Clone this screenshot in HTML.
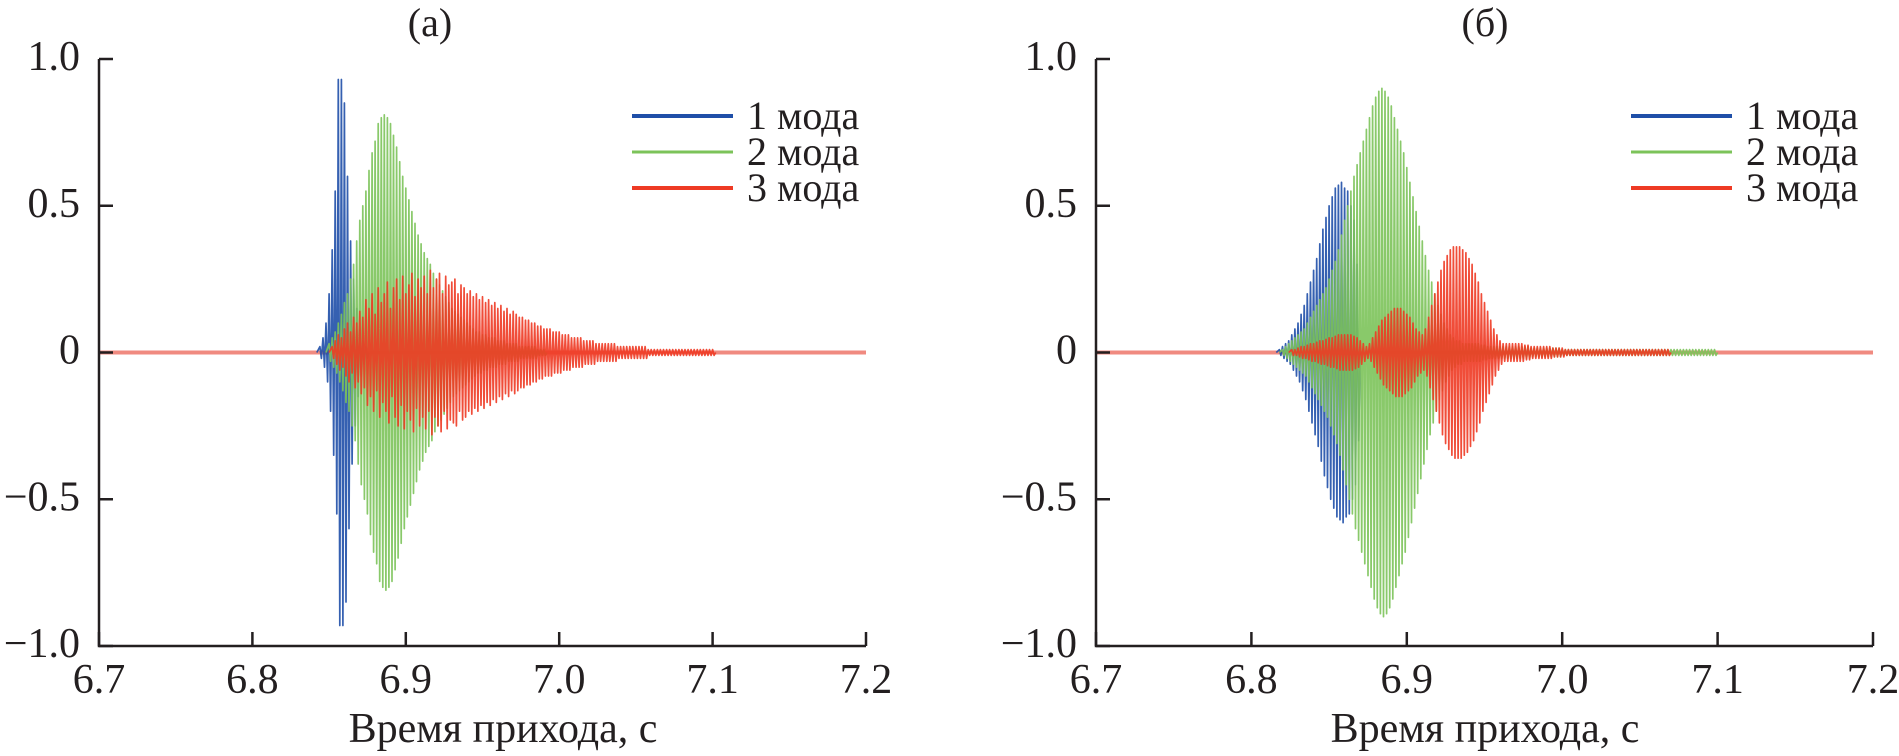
<!DOCTYPE html>
<html><head><meta charset="utf-8"><style>
html,body{margin:0;padding:0;background:#fff;}
svg{display:block;}
</style></head><body>
<svg id="chart" width="1899" height="756" viewBox="0 0 1899 756" xmlns="http://www.w3.org/2000/svg">
<g id="pa"></g>
<g id="pb"></g>
</svg>
<script>
const xTicks=[6.7,6.8,6.9,7.0,7.1,7.2];
const xTickLabels=["6.7","6.8","6.9","7.0","7.1","7.2"];
const yTicks=[1,0.5,0,-0.5,-1];
const yTickLabels=["1.0","0.5","0","\u22120.5","\u22121.0"];
const modeNames=["1 мода","2 мода","3 мода"];
const modeColors=["#1f4fa8","#7cc35a","#ee3a24"];
const dt=0.002;
// panel (a) peak amplitudes
const aBlueStart=6.844;
const aBlue=[0.02,0.05,0.1,0.2,0.35,0.55,0.93,0.93,0.85,0.6,0.38,0.25,0.15,0.08,0.04,0.02];
const aGreenStart=6.850;
const aGreen=[.03,.05,.07,.1,.13,.17,.2,.25,.3,.38,.45,.5,.55,.62,.68,.72,.78,.8,.81,.8,.78,.74,.7,.65,.6,.56,.52,.48,.44,.4,.37,.34,.32,.3,.27,.25,.23,.21,.19,.17,.15,.14,.13,.12,.11,.1,.09,.08,.07,.07,.06,.06,.05,.05,.05,.04,.04,.04,.03,.03,.03,.03,.02,.02,.02,.02,.02,.02,.01,.01,.01];
const aRedStart=6.852;
const aRed=[.02,.04,.06,.05,.08,.1,.07,.12,.1,.14,.12,.18,.15,.2,.13,.22,.17,.2,.24,.15,.22,.25,.18,.26,.2,.23,.27,.19,.25,.22,.26,.2,.28,.22,.25,.27,.2,.26,.23,.24,.25,.2,.23,.22,.2,.21,.19,.2,.18,.19,.17,.18,.16,.17,.15,.16,.14,.15,.13,.14,.13,.12,.12,.11,.11,.1,.1,.09,.09,.08,.08,.08,.07,.07,.07,.06,.06,.06,.05,.05,.05,.05,.04,.04,.04,.04,.03,.03,.03,.03,.03,.03,.03,.02,.02,.02,.02,.02,.02,.02,.02,.02,.02,.01,.01,.01,.01,.01,.01,.01,.01,.01,.01,.01,.01,.01,.01,.01,.01,.01,.01,.01,.01,.01,.01];
// panel (б)
const bBlueStart=6.818;
const bBlue=[.01,.02,.03,.04,.06,.08,.1,.13,.16,.2,.24,.28,.32,.37,.42,.46,.5,.53,.56,.57,.58,.56,.55,.5,.45,.3];
const bGreenStart=6.820;
const bGreen=[.01,.02,.03,.04,.05,.06,.07,.08,.1,.12,.14,.16,.18,.2,.22,.25,.28,.31,.35,.4,.45,.5,.55,.6,.64,.68,.72,.76,.8,.84,.87,.89,.9,.89,.87,.84,.8,.76,.72,.68,.63,.58,.53,.48,.43,.38,.33,.28,.24,.2,.16,.13,.1,.08,.06,.05,.04,.04,.03,.03,.03,.03,.03,.03,.025,.025,.02,.02,.02,.02,.02,.02,.02,.02,.02,.02,.02,.02,.02,.02,.015,.015,.015,.015,.015,.015,.015,.015,.015,.015,.01,.01,.01,.01,.01,.01,.01,.01,.01,.01,.01,.01,.01,.01,.01,.01,.01,.01,.01,.01,.01,.01,.01,.01,.01,.01,.01,.01,.01,.01,.01,.01,.01,.01,.01,.01,.01,.01,.01,.01,.01,.01,.01,.01,.01,.01,.01,.01,.01,.01];
const bRedStart=6.826;
const bRed=[.01,.01,.015,.02,.02,.025,.03,.03,.035,.04,.04,.045,.05,.05,.055,.06,.06,.06,.06,.06,.055,.05,.04,.03,.02,.03,.05,.07,.09,.11,.12,.13,.14,.15,.15,.15,.14,.13,.12,.1,.08,.07,.06,.08,.12,.16,.2,.24,.28,.31,.33,.35,.36,.36,.36,.35,.34,.32,.3,.27,.24,.2,.17,.14,.11,.08,.06,.04,.03,.03,.03,.03,.03,.03,.03,.025,.025,.02,.02,.02,.02,.02,.02,.02,.015,.015,.015,.015,.01,.01,.01,.01,.01,.01,.01,.01,.01,.01,.01,.01,.01,.01,.01,.01,.01,.01,.01,.01,.01,.01,.01,.01,.01,.01,.01,.01,.01,.01,.01,.01,.01,.01];

const NS="http://www.w3.org/2000/svg";
const FONT="'Liberation Serif', 'Noto Serif CJK SC', 'DejaVu Serif', serif";
function el(tag,attrs,parent){const e=document.createElementNS(NS,tag);for(const k in attrs)e.setAttribute(k,attrs[k]);parent.appendChild(e);return e;}

function drawPanel(g,x0,x1,title,titleX,labelX,series,legX){
  const yTop=59,yBot=646;
  const xs=t=>x0+(t-6.7)/(7.2-6.7)*(x1-x0);
  const ys=v=>(yTop+yBot)/2-v*(yBot-yTop)/2;
  const base=el("line",{x1:xs(6.7),x2:xs(7.2),y1:ys(0),y2:ys(0),stroke:"#f08a80","stroke-width":4},g);
  
  
  series.forEach((s,k)=>{
    let pts=[[xs(s.start-dt),ys(0)]];
    s.amps.forEach((a,i)=>{const t=s.start+i*dt;pts.push([xs(t),ys(a)]);pts.push([xs(t+dt/2),ys(-a)]);});
    pts.push([xs(s.start+s.amps.length*dt),ys(0)]);
    const p=el("polyline",{points:pts.map(p=>p[0].toFixed(1)+","+p[1].toFixed(1)).join(" "),fill:"none",stroke:modeColors[k],"stroke-width":1.7,"stroke-opacity":0.9,"stroke-linejoin":"round"},g);
    
    
  });
  const ax=el("path",{d:`M${x0},${yTop}V${yBot}H${x1}`,fill:"none",stroke:"#231f20","stroke-width":2.5},g);
  
  
  xTicks.forEach((t,i)=>{
    const tk=el("line",{x1:xs(t),x2:xs(t),y1:yBot,y2:yBot-14,stroke:"#231f20","stroke-width":2.5},g);
    
    
    const tl=el("text",{x:xs(t),y:693,"text-anchor":"middle","font-size":42,"font-family":FONT,fill:"#231f20"},g);
    tl.textContent=xTickLabels[i];
    
    
  });
  yTicks.forEach((v,i)=>{
    const tk=el("line",{x1:x0,x2:x0+14,y1:ys(v),y2:ys(v),stroke:"#231f20","stroke-width":2.5},g);
    
    
    const tl=el("text",{x:x0-19,y:ys(v)+11,"text-anchor":"end","font-size":42,"font-family":FONT,fill:"#231f20"},g);
    tl.textContent=yTickLabels[i];
    
    
  });
  const tt=el("text",{x:titleX,y:36,"text-anchor":"middle","font-size":40,"font-family":FONT,fill:"#231f20"},g);
  tt.textContent=title;
  
  
  const xl=el("text",{x:labelX,y:742,"text-anchor":"middle","font-size":42,"font-family":FONT,fill:"#231f20"},g);
  xl.textContent="Время прихода, с";
  
  
  modeNames.forEach((n,k)=>{
    const y=116+k*36;
    const le=el("g",{},g);
    
    
    el("line",{x1:legX,x2:legX+101,y1:y,y2:y,stroke:modeColors[k],"stroke-width":k===1?3:4},le);
    const lt=el("text",{x:legX+115,y:y+13,"font-size":40,"font-family":FONT,fill:"#231f20"},le);
    lt.textContent=n;
  });
}
drawPanel(document.getElementById("pa"),99,866,"(а)",430,503,
  [{start:aBlueStart,amps:aBlue},{start:aGreenStart,amps:aGreen},{start:aRedStart,amps:aRed}],632);
drawPanel(document.getElementById("pb"),1096,1873,"(б)",1485,1485,
  [{start:bBlueStart,amps:bBlue},{start:bGreenStart,amps:bGreen},{start:bRedStart,amps:bRed}],1631);
</script>
</body></html>
